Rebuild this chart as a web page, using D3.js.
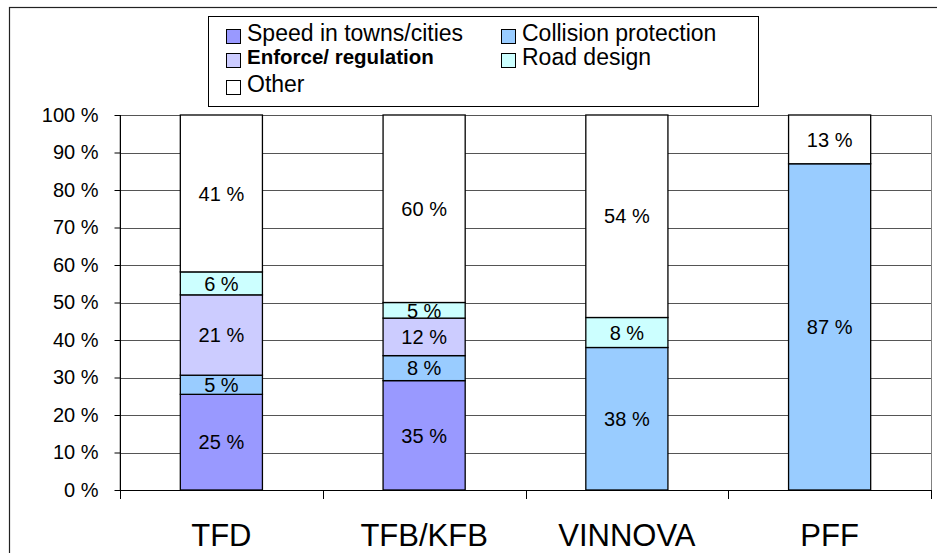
<!DOCTYPE html>
<html>
<head>
<meta charset="utf-8">
<script src="https://cdn.jsdelivr.net/npm/d3@7"></script>
<style>
  html, body { margin: 0; padding: 0; background: #fff; }
  svg { display: block; font-family: "Liberation Sans", Arial, sans-serif; }
</style>
</head>
<body>
<svg id="chart" width="937" height="553"></svg>
<script>
// ---- data ----
const categories = ["TFD", "TFB/KFB", "VINNOVA", "PFF"];
const seriesNames = ["Speed in towns/cities", "Collision protection", "Enforce/ regulation", "Road design", "Other"];
const speedValues     = [25, 35, 0, 0];
const collisionValues = [5, 8, 38, 87];
const enforceValues   = [21, 12, 0, 0];
const roadValues      = [6, 5, 8, 0];
const otherValues     = [41, 60, 54, 13];
const yTickValues = [0, 0.1, 0.2, 0.3, 0.4, 0.5, 0.6, 0.7, 0.8, 0.9, 1.0];
const seriesColors = ["#9999FF", "#99CCFF", "#CCCCFF", "#CCFFFF", "#FFFFFF"];

const keys = ["speed", "collision", "enforce", "road", "other"];
const valueArrays = [speedValues, collisionValues, enforceValues, roadValues, otherValues];
const table = categories.map((c, i) => {
  const row = { category: c };
  keys.forEach((k, j) => row[k] = valueArrays[j][i]);
  return row;
});

const svg = d3.select("#chart");

// outer chart border
svg.append("rect").attr("x", 9.5).attr("y", 7.5).attr("width", 940).attr("height", 560)
  .attr("fill", "none").attr("stroke", "#222").attr("stroke-width", 1.2);

const plot = { left: 120, right: 931, top: 115, bottom: 490 };

const x = d3.scaleBand().domain(categories).range([plot.left, plot.right])
  .paddingInner(0.595).paddingOuter(0.2975);
const y = d3.scaleLinear().domain([0, 1]).range([plot.bottom, plot.top]);

// plot area border
svg.append("rect").attr("x", plot.left).attr("y", plot.top + 0.5)
  .attr("width", plot.right - plot.left + 0.5).attr("height", plot.bottom - plot.top)
  .attr("fill", "none").attr("stroke", "#808080").attr("stroke-width", 1);

// gridlines
svg.append("g").selectAll("line").data(yTickValues.filter(v => v > 0)).join("line")
  .attr("x1", plot.left).attr("x2", plot.right)
  .attr("y1", d => Math.round(y(d)) + 0.5).attr("y2", d => Math.round(y(d)) + 0.5)
  .attr("stroke", "#555").attr("stroke-width", 1);

// stacked bars (100% stacked)
const stack = d3.stack().keys(keys).offset(d3.stackOffsetExpand);
const layers = stack(table);

const gBars = svg.append("g");
layers.forEach((layer, li) => {
  gBars.append("g").selectAll("rect").data(layer.filter(d => d[1] - d[0] > 0)).join("rect")
    .attr("x", d => x(d.data.category))
    .attr("width", x.bandwidth())
    .attr("y", d => y(d[1]))
    .attr("height", d => y(d[0]) - y(d[1]))
    .attr("fill", seriesColors[li])
    .attr("stroke", "#000").attr("stroke-width", 1.3);
});

// value labels
layers.forEach((layer, li) => {
  gBars.append("g").selectAll("text").data(layer.filter(d => d[1] - d[0] > 0)).join("text")
    .attr("x", d => x(d.data.category) + x.bandwidth() / 2)
    .attr("y", d => y((d[0] + d[1]) / 2))
    .attr("dy", "0.36em")
    .attr("text-anchor", "middle")
    .attr("font-size", 20)
    .attr("fill", "#000")
    .text(d => d.data[layer.key] + " %");
});

// y axis
const yAxis = d3.axisLeft(y).tickValues(yTickValues).tickSize(6).tickPadding(16)
  .tickFormat(d => Math.round(d * 100) + " %");
const gy = svg.append("g").attr("transform", `translate(${plot.left + 0.5},0)`).call(yAxis);
gy.select(".domain").remove();
gy.append("line").attr("x1", 0).attr("x2", 0).attr("y1", plot.top).attr("y2", plot.bottom + 9)
  .attr("stroke", "#000");
gy.selectAll(".tick line").attr("stroke", "#000");
gy.selectAll(".tick text").attr("font-size", 20).attr("fill", "#000")
  .attr("font-family", "'Liberation Sans', Arial, sans-serif");

// x axis line and category dividers
svg.append("line").attr("x1", plot.left).attr("x2", plot.right)
  .attr("y1", plot.bottom + 0.5).attr("y2", plot.bottom + 0.5).attr("stroke", "#000");
const boundaries = categories.map(c => x(c) - x.step() * x.paddingInner() / 2 + x.step());
svg.append("g").selectAll("line").data(boundaries).join("line")
  .attr("x1", d => Math.round(d) + 0.5).attr("x2", d => Math.round(d) + 0.5)
  .attr("y1", plot.bottom).attr("y2", plot.bottom + 9).attr("stroke", "#000");

// category labels
svg.append("g").selectAll("text").data(categories).join("text")
  .attr("x", d => x(d) + x.bandwidth() / 2)
  .attr("y", 546)
  .attr("text-anchor", "middle")
  .attr("font-size", 31)
  .attr("fill", "#000")
  .text(d => d);

// legend
svg.append("rect").attr("x", 208.5).attr("y", 16.5).attr("width", 550).attr("height", 90)
  .attr("fill", "#fff").attr("stroke", "#000").attr("stroke-width", 1);
const legendPos = [
  { x: 226, y: 29, ty: 41 },   // Speed
  { x: 501, y: 29, ty: 41 },   // Collision
  { x: 226, y: 53, ty: 64 },   // Enforce
  { x: 501, y: 53, ty: 65 },   // Road
  { x: 226, y: 80, ty: 92 }    // Other
];
const gLeg = svg.append("g");
seriesNames.forEach((name, i) => {
  const p = legendPos[i];
  gLeg.append("rect").attr("x", p.x + 0.5).attr("y", p.y + 0.5).attr("width", 14).attr("height", 14)
    .attr("fill", seriesColors[i]).attr("stroke", "#000").attr("stroke-width", 1);
  const t = gLeg.append("text").attr("x", p.x + 21).attr("y", p.ty)
    .attr("fill", "#000").text(name);
  if (i === 2) t.attr("font-weight", "bold").attr("font-size", 20.5);
  else t.attr("font-size", 23);
});
</script>
</body>
</html>
